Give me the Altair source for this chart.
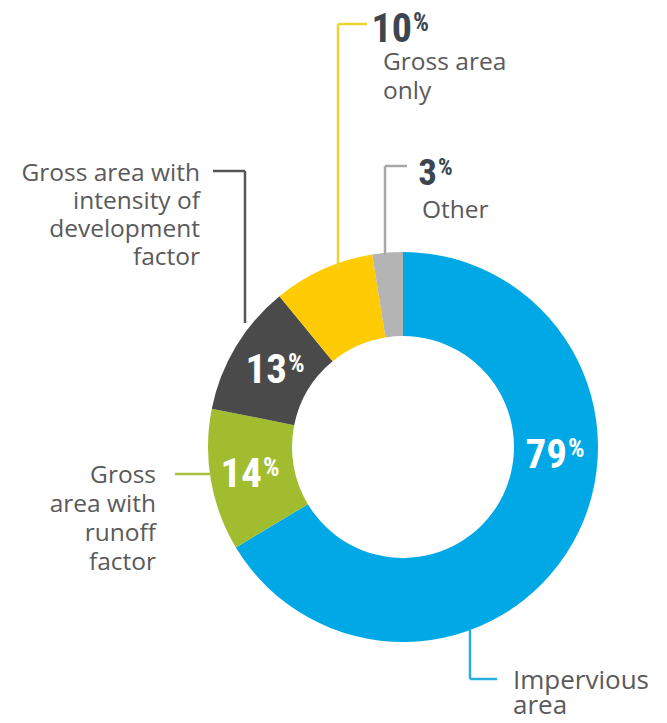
import altair as alt
import pandas as pd

# ---- data ----
categories = [
    "Impervious area",
    "Gross area with runoff factor",
    "Gross area with intensity of development factor",
    "Gross area only",
    "Other",
]
values = [79, 14, 13, 10, 3]
pct_labels = ["79", "14", "13", "10", "3"]
label_text = [
    "Impervious\narea",
    "Gross\narea with\nrunoff\nfactor",
    "Gross area with\nintensity of\ndevelopment\nfactor",
    "Gross area\nonly",
    "Other",
]
colors = ["#00A8E6", "#A2BC2F", "#4A4A4A", "#FFCB05", "#B4B4B4"]
line_colors = ["#2AAEE0", "#A8C040", "#555555", "#E9D530", "#A8A8A8"]

# ---- layout (chart pixel positions of annotations) ----
W, H = 651, 707
CX, CY = 395, 439
R_OUT, R_IN = 195, 111

pct_x = [559, 254, 279, 404, 429]
pct_y = [460, 479, 375, 34, 177]
pct_size = [41, 41, 41, 40, 37]
pct_sign_size = [26, 26, 26, 25, 23]
pct_color = ["#FFFFFF", "#FFFFFF", "#FFFFFF", "#3C4650", "#3C4650"]

lab_x = [505, 148, 192, 375, 414]
lab_y = [681, 475, 173, 62, 210]
lab_align = ["left", "right", "right", "left", "left"]
lab_lh = [25, 29, 28, 29, 28]
lab_size = [26, 24.5, 24.5, 24.5, 24.5]

# leader line segments: (category index, x, y, x2, y2)
segments = [
    (0, 462, 622, 462, 671), (0, 462, 671, 489, 671),
    (1, 167, 466, 205, 466),
    (2, 205, 163, 237, 163), (2, 237, 163, 237, 315),
    (3, 330, 16, 330, 262), (3, 330, 16, 359, 16),
    (4, 377, 158, 377, 247), (4, 377, 158, 399, 158),
]

df = pd.DataFrame({
    "category": categories,
    "value": values,
    "ord": list(range(len(categories))),
    "pct": pct_labels,
    "px": pct_x,
    "py": pct_y,
    "pcol": pct_color,
    "label": label_text,
    "lx": lab_x,
    "ly": lab_y,
})

seg_df = pd.DataFrame(segments, columns=["i", "x", "y", "x2", "y2"])
seg_df["col"] = [line_colors[i] for i in seg_df["i"]]

xs = alt.Scale(domain=[0, W], range=[0, W], nice=False, zero=False)
ys = alt.Scale(domain=[0, H], range=[0, H], nice=False, zero=False)

arc = alt.Chart(df).mark_arc(innerRadius=R_IN, outerRadius=R_OUT).encode(
    theta=alt.Theta("value:Q", stack=True),
    color=alt.Color("category:N", scale=alt.Scale(domain=categories, range=colors), legend=None),
    order=alt.Order("ord:Q"),
    x=alt.value(CX),
    y=alt.value(CY),
)

rules = alt.Chart(seg_df).mark_rule(strokeWidth=2.5).encode(
    x=alt.X("x:Q", scale=xs, axis=None),
    y=alt.Y("y:Q", scale=ys, axis=None),
    x2="x2:Q",
    y2="y2:Q",
    color=alt.Color("col:N", scale=None),
)

COND = ("Roboto Condensed, Noto Sans Condensed, Open Sans Condensed, "
        "DejaVu Sans Condensed, Liberation Sans Narrow, Roboto, sans-serif")

layers = [arc, rules]
for i in range(len(categories)):
    sub = df.iloc[[i]]
    num = alt.Chart(sub).mark_text(
        font=COND, fontWeight="bold", fontSize=pct_size[i],
        align="right", baseline="alphabetic",
    ).encode(
        x=alt.X("px:Q", scale=xs, axis=None),
        y=alt.Y("py:Q", scale=ys, axis=None),
        text="pct:N",
        color=alt.Color("pcol:N", scale=None),
    )
    sign = alt.Chart(sub).mark_text(
        font=COND, fontWeight="bold", fontSize=pct_sign_size[i],
        align="left", baseline="alphabetic", dx=1,
        dy=-(pct_size[i] - pct_sign_size[i]) * 0.71,
    ).encode(
        x=alt.X("px:Q", scale=xs, axis=None),
        y=alt.Y("py:Q", scale=ys, axis=None),
        text=alt.value("%"),
        color=alt.Color("pcol:N", scale=None),
    )
    lab = alt.Chart(sub).mark_text(
        font="Open Sans", fontSize=lab_size[i], align=lab_align[i], baseline="alphabetic",
        lineBreak="\n", lineHeight=lab_lh[i], color="#5A5A5A",
    ).encode(
        x=alt.X("lx:Q", scale=xs, axis=None),
        y=alt.Y("ly:Q", scale=ys, axis=None),
        text="label:N",
    )
    layers += [num, sign, lab]

chart = alt.layer(*layers).properties(
    width=W, height=H, padding=0, autosize=alt.AutoSizeParams(type="none"),
).configure_view(strokeWidth=0)

chart.save("out.html", embed_options={"renderer": "svg", "actions": False})
